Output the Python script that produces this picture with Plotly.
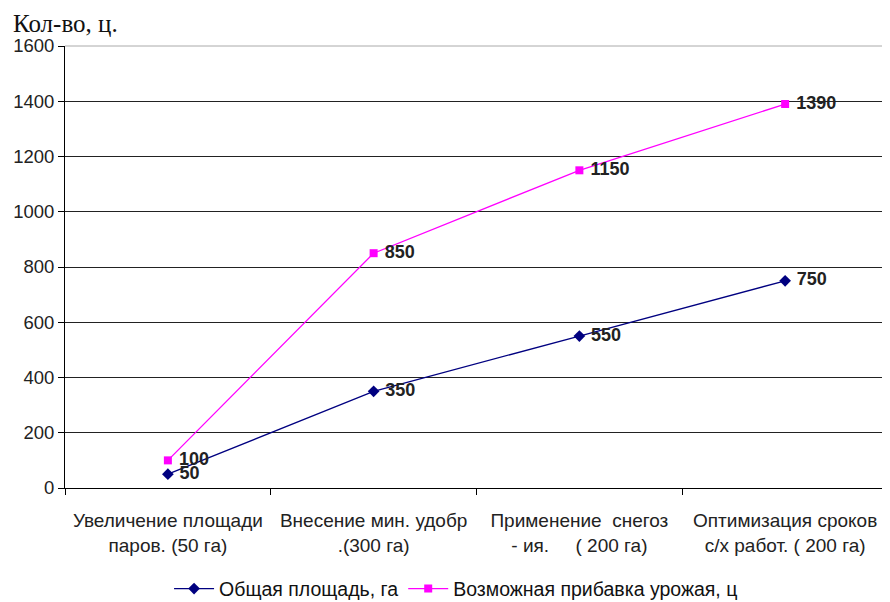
import plotly.graph_objects as go

categories = [
    "Увеличение площади<br>паров. (50 га)",
    "Внесение мин. удобр<br>.(300 га)",
    "Применение\u00a0\u00a0снегоз<br>- ия.\u00a0\u00a0\u00a0\u00a0\u00a0( 200 га)",
    "Оптимизация сроков<br>с/х работ. ( 200 га)",
]
total_area = [50, 350, 550, 750]
possible_gain = [100, 850, 1150, 1390]
y_ticks = [0, 200, 400, 600, 800, 1000, 1200, 1400, 1600]

lbl_font = dict(family="Arial, Liberation Sans", size=18, color="#222222", weight="bold")

fig = go.Figure()
fig.add_trace(go.Scatter(
    x=categories, y=total_area, mode="lines+markers+text",
    name="Общая площадь, га",
    line=dict(color="#000080", width=1.3),
    marker=dict(symbol="diamond", size=9, color="#000080"),
    text=["\u00a0" + str(v) for v in total_area], textposition="middle right",
    textfont=lbl_font, cliponaxis=False,
))
fig.add_trace(go.Scatter(
    x=categories, y=possible_gain, mode="lines+markers+text",
    name="Возможная прибавка урожая, ц",
    line=dict(color="#FF00FF", width=1.3),
    marker=dict(symbol="square", size=8, color="#FF00FF"),
    text=["\u00a0" + str(v) for v in possible_gain], textposition="middle right",
    textfont=lbl_font, cliponaxis=False,
))

# page body has an 8px margin, so the figure is sized to fill the rest
fig.update_layout(
    width=882, height=594,
    margin=dict(l=57, r=2, t=38, b=114, autoexpand=False),
    paper_bgcolor="white", plot_bgcolor="white",
    font=dict(family="Arial, Liberation Sans", size=17, color="#222222"),
    showlegend=True,
    legend=dict(orientation="h", xref="container", yref="container",
                x=0.508, xanchor="center", y=0.022, yanchor="middle",
                font=dict(size=19.5, color="#111111"), itemwidth=40),
    xaxis=dict(
        type="category", tickson="boundaries", ticks="outside", ticklen=6,
        tickcolor="#000000", showline=True, linecolor="#000000", linewidth=1,
        showgrid=False, tickfont=dict(size=19, color="#222222"),
        ticklabelstandoff=15,
        range=[-0.5, 3.5], automargin=False,
    ),
    yaxis=dict(
        range=[0, 1600], tickvals=y_ticks, ticks="outside", ticklen=6,
        tickcolor="#000000", showline=True, linecolor="#000000", linewidth=1,
        showgrid=True, gridcolor="#222222", gridwidth=1, zeroline=False,
        tickfont=dict(size=18.5, color="#222222"), automargin=False,
    ),
    annotations=[dict(
        text="Кол-во, ц.", xref="paper", yref="paper", x=-0.0656, y=1.0,
        xanchor="left", yanchor="bottom", yshift=7, showarrow=False,
        font=dict(family="Liberation Serif, Times New Roman", size=25, color="#111111"),
    )],
    shapes=[
        dict(type="line", xref="paper", yref="paper", x0=0, x1=1, y0=1, y1=1,
             line=dict(color="#aaaaaa", width=1)),
        dict(type="line", xref="paper", yref="paper", x0=1, x1=1, y0=0, y1=1,
             line=dict(color="#aaaaaa", width=1)),
    ],
)

fig.write_html("out.html")
